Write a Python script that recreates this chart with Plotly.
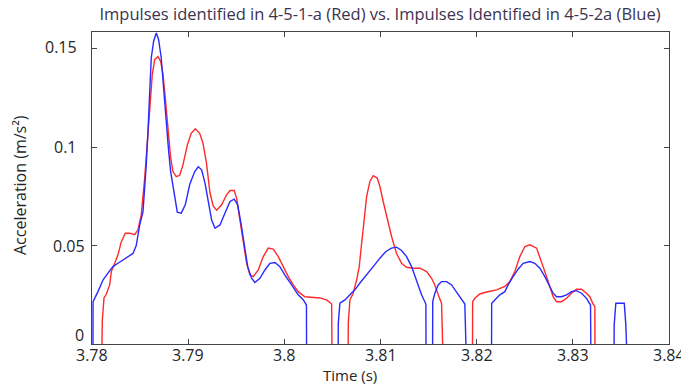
import plotly.graph_objects as go

# ---------------- data (time in s, acceleration in m/s^2) ----------------
# Red: impulses identified in 4-5-1-a
red_time_1 = [3.78104, 3.78107, 3.78125, 3.78146, 3.78184, 3.78201, 3.78236, 3.7827, 3.78305,
              3.78346, 3.78392, 3.78444, 3.78478, 3.78512, 3.78548, 3.78575, 3.786, 3.78627,
              3.78652, 3.78686, 3.78714, 3.78738, 3.78762, 3.7879, 3.78818, 3.78842, 3.78876,
              3.78912, 3.78946, 3.78991, 3.79032, 3.79074, 3.7912, 3.79154, 3.7919, 3.79227,
              3.79261, 3.79296, 3.79348, 3.794, 3.79435, 3.79479, 3.79504, 3.79538, 3.79573,
              3.79608, 3.79642, 3.79677, 3.79729, 3.79781, 3.79833, 3.79885, 3.79937, 3.79989,
              3.80041, 3.80093, 3.80144, 3.80214, 3.803, 3.8037, 3.8044, 3.80492, 3.80495]
red_accel_1 = [0.0, 0.012, 0.0234, 0.025, 0.030, 0.0368, 0.041, 0.0453, 0.052,
               0.0563, 0.0563, 0.0555, 0.058, 0.0656, 0.0843, 0.101, 0.120, 0.137,
               0.1445, 0.146, 0.1436, 0.137, 0.125, 0.111, 0.0945, 0.0876, 0.085,
               0.0857, 0.091, 0.101, 0.107, 0.1093, 0.107, 0.102, 0.092, 0.0767,
               0.070, 0.068, 0.0707, 0.0758, 0.078, 0.078, 0.074, 0.063, 0.0512,
               0.041, 0.035, 0.0342, 0.0376, 0.0444, 0.0487, 0.0482, 0.0444, 0.0393,
               0.0342, 0.030, 0.0266, 0.024, 0.0236, 0.0234, 0.0224, 0.0203, 0.0]

red_time_2 = [3.80664, 3.80665, 3.80682, 3.80716, 3.80752, 3.80779, 3.80804, 3.80827, 3.80856,
              3.8089, 3.80924, 3.80966, 3.80994, 3.81028, 3.8107, 3.81115, 3.81167, 3.81219,
              3.81271, 3.8134, 3.8141, 3.81479, 3.81531, 3.81565, 3.816, 3.81635, 3.81646]
red_accel_2 = [0.0, 0.0107, 0.0224, 0.0258, 0.0326, 0.0393, 0.0512, 0.063, 0.075,
               0.0826, 0.0855, 0.0843, 0.080, 0.0724, 0.064, 0.0546, 0.046, 0.041,
               0.039, 0.0385, 0.0385, 0.0368, 0.0334, 0.030, 0.025, 0.0207, 0.0]

red_time_3 = [3.81957, 3.81958, 3.81981, 3.82033, 3.82103, 3.82207, 3.82293, 3.82345, 3.82397,
              3.82449, 3.82501, 3.82553, 3.82623, 3.82657, 3.82691, 3.82727, 3.82761, 3.82795,
              3.82831, 3.82883, 3.82935, 3.82986, 3.83038, 3.8309, 3.83142, 3.83177, 3.83211,
              3.83229, 3.8323]
red_accel_3 = [0.0, 0.0215, 0.0232, 0.0254, 0.0264, 0.0275, 0.0292, 0.0317, 0.0368,
               0.0444, 0.0495, 0.0504, 0.0487, 0.0444, 0.0393, 0.0342, 0.0292, 0.024,
               0.0215, 0.0215, 0.0232, 0.0258, 0.0278, 0.0278, 0.0258, 0.024, 0.0203,
               0.019, 0.0]

# Blue: impulses identified in 4-5-2a
blue_time_1 = [3.7801, 3.78011, 3.78062, 3.78114, 3.78166, 3.78218, 3.7827, 3.78322, 3.78374,
               3.78426, 3.7846, 3.78496, 3.7853, 3.78548, 3.78564, 3.78582, 3.786, 3.78616,
               3.78641, 3.78668, 3.78693, 3.7872, 3.78748, 3.78772, 3.78797, 3.78818, 3.78852,
               3.78887, 3.78928, 3.7897, 3.79016, 3.79068, 3.79105, 3.7914, 3.79175, 3.79209,
               3.79244, 3.79279, 3.79331, 3.79383, 3.79435, 3.79479, 3.79515, 3.79549, 3.79583,
               3.79619, 3.7966, 3.79694, 3.79746, 3.79798, 3.7985, 3.79902, 3.79954, 3.80006,
               3.80076, 3.80144, 3.80196, 3.8023, 3.80231]
blue_accel_1 = [0.0, 0.0215, 0.0266, 0.0325, 0.036, 0.0393, 0.041, 0.0427, 0.044,
                0.046, 0.050, 0.0605, 0.067, 0.0775, 0.091, 0.108, 0.128, 0.1453,
                0.1538, 0.158, 0.1546, 0.1453, 0.128, 0.111, 0.098, 0.0876, 0.0775,
                0.067, 0.0665, 0.0707, 0.081, 0.0876, 0.090, 0.0885, 0.0817, 0.0716,
                0.063, 0.0588, 0.0605, 0.0665, 0.0724, 0.0736, 0.0707, 0.0614, 0.0495,
                0.0393, 0.0334, 0.0312, 0.0334, 0.0376, 0.041, 0.0414, 0.0393, 0.035,
                0.030, 0.025, 0.0225, 0.0198, 0.0]

blue_time_2 = [3.8056, 3.80561, 3.80578, 3.8063, 3.80682, 3.80734, 3.80786, 3.80856, 3.80924,
               3.80994, 3.81056, 3.81115, 3.81167, 3.81219, 3.81271, 3.81323, 3.81358, 3.81392,
               3.81427, 3.81472, 3.81473]
blue_accel_2 = [0.0, 0.0105, 0.0207, 0.0224, 0.025, 0.0275, 0.031, 0.035, 0.0393,
                0.0436, 0.047, 0.0487, 0.0492, 0.0475, 0.0444, 0.0393, 0.0342, 0.029,
                0.025, 0.0203, 0.0]

blue_time_3 = [3.81542, 3.81543, 3.81565, 3.816, 3.81635, 3.81687, 3.81739, 3.81773, 3.81825,
               3.81877, 3.81888]
blue_accel_3 = [0.0, 0.0215, 0.0258, 0.030, 0.0317, 0.0317, 0.030, 0.0275, 0.024,
                0.0203, 0.0]

blue_time_4 = [3.82155, 3.82156, 3.82189, 3.82241, 3.82293, 3.82327, 3.82379, 3.82431, 3.82483,
               3.82553, 3.82605, 3.82657, 3.82709, 3.82761, 3.82795, 3.82831, 3.82883, 3.82935,
               3.82986, 3.83038, 3.8309, 3.83142, 3.83184, 3.83187]
blue_accel_4 = [0.0, 0.0207, 0.0224, 0.025, 0.0266, 0.030, 0.0342, 0.038, 0.041,
                0.0419, 0.041, 0.0385, 0.0342, 0.0292, 0.0258, 0.024, 0.024, 0.025,
                0.0266, 0.0271, 0.0258, 0.0232, 0.0198, 0.0]

blue_time_5 = [3.83429, 3.8343, 3.83447, 3.83535, 3.83551, 3.83558]
blue_accel_5 = [0.0, 0.0097, 0.0207, 0.0207, 0.0097, 0.0]

x_ticks = [3.78, 3.79, 3.80, 3.81, 3.82, 3.83, 3.84]
x_tick_labels = ["3.78", "3.79", "3.8", "3.81", "3.82", "3.83", "3.84"]
y_ticks = [0, 0.05, 0.10, 0.15]
y_tick_labels = ["0", "0.05", "0.1", "0.15"]

# ---------------- style ----------------
RED = "#ff2a2a"
BLUE = "#2a2aff"
FONT = "Open Sans, DejaVu Sans, sans-serif"
TXT = "#262626"
L, R, T, B = 92, 12, 32, 41
PW, PH = 681 - L - R, 385 - T - B
# right edge (px) and vertical shift (px) of each y tick label, as drawn in the original
ylab_right_px = [86, 87, 79, 79]
ylab_shift_px = [9, 0, 0, 2]
XLAB_Y_PX = 355  # vertical centre of x tick labels


def join(segs):
    xs, ys = [], []
    for t, a in segs:
        xs += list(t) + [None]
        ys += list(a) + [None]
    return xs, ys


rx, ry = join([(red_time_1, red_accel_1), (red_time_2, red_accel_2), (red_time_3, red_accel_3)])
bx, by = join([(blue_time_1, blue_accel_1), (blue_time_2, blue_accel_2), (blue_time_3, blue_accel_3),
               (blue_time_4, blue_accel_4), (blue_time_5, blue_accel_5)])

fig = go.Figure()
fig.add_trace(go.Scatter(x=rx, y=ry, mode="lines", line=dict(color=RED, width=1.4),
                         connectgaps=False, showlegend=False, hoverinfo="skip"))
fig.add_trace(go.Scatter(x=bx, y=by, mode="lines", line=dict(color=BLUE, width=1.4),
                         connectgaps=False, showlegend=False, hoverinfo="skip"))

annotations = [
    dict(text="Time (s)", xref="paper", yref="paper", x=(350 - L) / PW, y=(T + PH - 375) / PH,
         xanchor="center", yanchor="middle", showarrow=False,
         font=dict(family=FONT, size=15, color=TXT)),
    dict(text="Acceleration (m/s²)", xref="paper", yref="paper", x=(20 - L) / PW,
         y=(T + PH - 185) / PH, xanchor="center", yanchor="middle", textangle=-90,
         showarrow=False, font=dict(family=FONT, size=16, color=TXT)),
]
for val, lab, rpx, sh in zip(y_ticks, y_tick_labels, ylab_right_px, ylab_shift_px):
    annotations.append(dict(text=lab, xref="paper", yref="y", x=(rpx - L) / PW, y=val,
                            xanchor="right", yanchor="middle", yshift=sh, showarrow=False,
                            font=dict(family=FONT, size=16, color=TXT)))
# x tick labels drawn as text so the last one may run past the figure edge (clipped there)
for val, lab in zip(x_ticks, x_tick_labels):
    annotations.append(dict(text=lab, xref="x", yref="paper", x=val, y=(T + PH - XLAB_Y_PX) / PH,
                            xanchor="center", yanchor="middle", showarrow=False,
                            font=dict(family=FONT, size=16, color=TXT)))

fig.update_layout(
    width=681, height=385,
    margin=dict(l=L, r=R, t=T, b=B, pad=0, autoexpand=False),
    paper_bgcolor="white", plot_bgcolor="white",
    font=dict(family=FONT, size=16, color=TXT),
    title=dict(text="Impulses identified in 4-5-1-a (Red) vs. Impulses Identified in 4-5-2a (Blue)",
               x=(380 - L) / PW, xref="paper", xanchor="center", y=1 - 14 / 385, yanchor="middle",
               font=dict(family=FONT, size=16.5, color="#3b3350")),
    xaxis=dict(range=[3.78, 3.84], tickmode="array", tickvals=x_ticks, showticklabels=False,
               ticks="inside", ticklen=5, tickwidth=1, tickcolor="#444444",
               showline=True, linecolor="#444444", linewidth=1, mirror="ticks",
               showgrid=False, zeroline=False),
    yaxis=dict(range=[0, 0.1585], tickmode="array", tickvals=y_ticks, showticklabels=False,
               ticks="inside", ticklen=5, tickwidth=1, tickcolor="#444444",
               showline=True, linecolor="#444444", linewidth=1, mirror="ticks",
               showgrid=False, zeroline=False),
    annotations=annotations,
)

fig.write_html("out.html")
